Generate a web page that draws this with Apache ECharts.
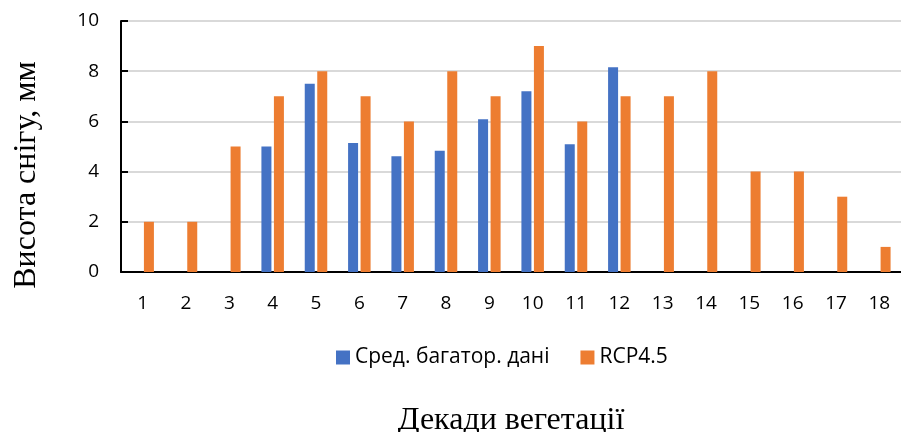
<!DOCTYPE html>
<html>
<head>
<meta charset="utf-8">
<script src="https://cdn.jsdelivr.net/npm/echarts@6/dist/echarts.min.js"></script>
<style>
  html, body { margin: 0; padding: 0; background: #fff; }
  #chart { width: 901px; height: 432px; }
</style>
</head>
<body>
<div id="chart"></div>
<script>
// Decades of vegetation, 1..18
const decades = ['1', '2', '3', '4', '5', '6', '7', '8', '9', '10', '11', '12', '13', '14', '15', '16', '17', '18'];
// average long-term data (missing where no bar)
const avgData = [null, null, null, 5.0, 7.5, 5.14, 4.61, 4.83, 6.09, 7.2, 5.09, 8.16, null, null, null, null, null, null];
const rcpData = [2, 2, 5, 7, 8, 7, 6, 8, 7, 9, 6, 7, 7, 8, 4, 4, 3, 1];

const chart = echarts.init(document.getElementById('chart'));

const labelFont = { fontFamily: 'Open Sans', fontSize: 19, color: '#000' };
const titleFont = { fontFamily: 'Liberation Serif', fontSize: 32, color: '#000' };

chart.setOption({
  animation: false,
  grid: { left: 121, right: 0, top: 21, bottom: 160, outerBoundsMode: 'none' },
  legend: {
    data: ['Сред. багатор. дані', 'RCP4.5'],
    top: 342,
    left: 331,
    itemWidth: 14,
    itemHeight: 14,
    itemGap: 31,
    icon: 'rect',
    textStyle: { fontFamily: 'Open Sans', fontSize: 21, color: '#000' }
  },
  graphic: [{
    type: 'text',
    x: 27,
    y: 175,
    rotation: Math.PI / 2,
    style: {
      text: 'Висота снігу, мм', align: 'center', verticalAlign: 'middle',
      font: '32px "Liberation Serif"', fill: '#000'
    }
  }],
  xAxis: {
    type: 'category',
    data: decades,
    name: 'Декади вегетації',
    nameLocation: 'middle',
    nameGap: 133,
    nameTextStyle: titleFont,
    axisLine: { lineStyle: { color: '#000', width: 2 } },
    axisTick: { inside: true, length: 7, lineStyle: { color: '#000', width: 2 } },
    axisLabel: Object.assign({ margin: 22 }, labelFont)
  },
  yAxis: {
    type: 'value',
    min: 0,
    max: 10,
    interval: 2,
    axisLine: { show: true, lineStyle: { color: '#000', width: 2 } },
    axisTick: { show: true, inside: true, length: 7, lineStyle: { color: '#000', width: 2 } },
    splitLine: { lineStyle: { color: '#d9d9d9', width: 2 } },
    axisLabel: Object.assign({ margin: 22 }, labelFont)
  },
  series: [
    {
      name: 'Сред. багатор. дані',
      type: 'bar',
      data: avgData,
      barWidth: 10,
      barGap: '25%',
      itemStyle: { color: '#4472c4' }
    },
    {
      name: 'RCP4.5',
      type: 'bar',
      data: rcpData,
      barWidth: 10,
      barGap: '25%',
      itemStyle: { color: '#ed7d31' }
    }
  ]
});
</script>
</body>
</html>
